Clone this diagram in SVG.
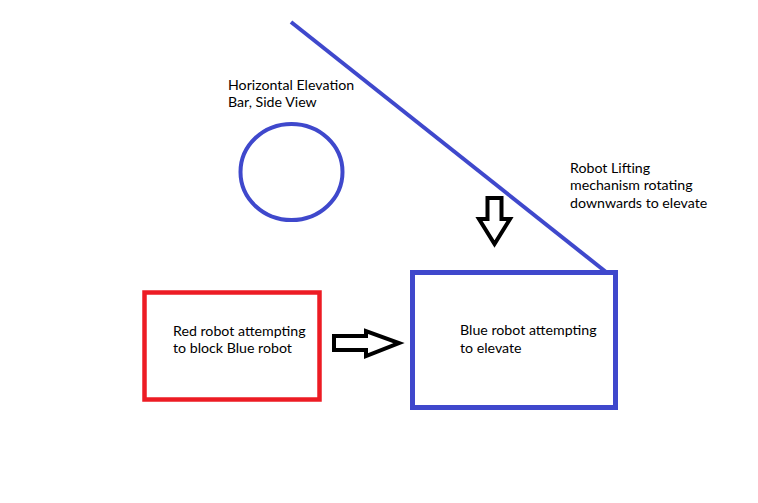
<svg xmlns="http://www.w3.org/2000/svg" width="758" height="503" viewBox="0 0 758 503">
<style>
text{font-family:Lato,"Open Sans","Liberation Sans",sans-serif;font-size:14.2px;fill:#000}
.blue{fill:none;stroke:#3F48CC}
.red{fill:none;stroke:#ED1C24}
.arrow{fill:#fff;stroke:#000;stroke-width:4;stroke-linejoin:miter}
</style>
<rect width="758" height="503" fill="#fff"/>
<g id="bar">
<ellipse class="blue" cx="291.5" cy="172" rx="51" ry="48" stroke-width="4"/>
<text x="228" y="90">Horizontal Elevation</text>
<text x="228" y="107">Bar, Side View</text>
</g>
<g id="lift">
<line class="blue" x1="291" y1="22" x2="606" y2="272" stroke-width="4"/>
<text x="570" y="173">Robot Lifting</text>
<text x="570" y="190">mechanism rotating</text>
<text x="570" y="208">downwards to elevate</text>
</g>
<g id="red-robot">
<rect class="red" x="144.5" y="292.5" width="175" height="107" stroke-width="4.5"/>
<text x="173" y="336">Red robot attempting</text>
<text x="173" y="353">to block Blue robot</text>
</g>
<g id="blue-robot">
<rect class="blue" x="412.5" y="272.5" width="203" height="135" stroke-width="5"/>
<text x="460" y="335">Blue robot attempting</text>
<text x="460" y="353">to elevate</text>
</g>
<g id="connectors">
<polygon class="arrow" points="487.5,198 501.5,198 501.5,219 510,219 494.5,244 479,219 487.5,219"/>
<polygon class="arrow" points="334,336 366,336 366,331 399,343 366,356 366,350 334,350"/>
</g>
</svg>
